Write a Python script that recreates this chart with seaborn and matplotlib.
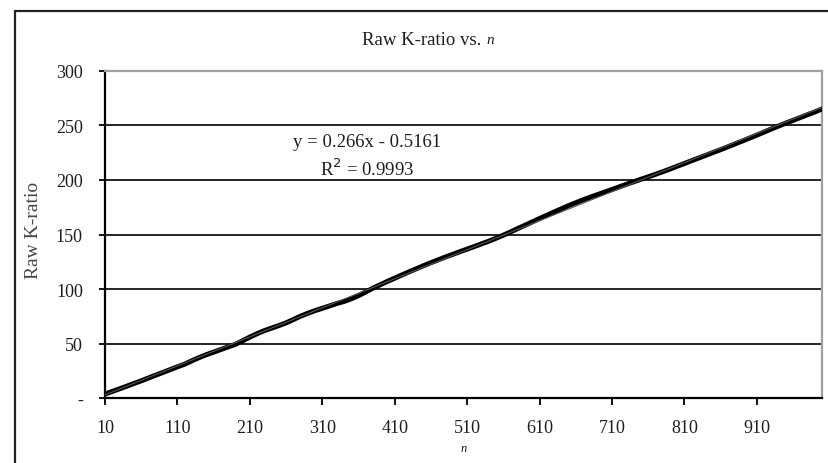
import matplotlib
matplotlib.use("Agg")
import matplotlib.pyplot as plt
import pandas as pd
import seaborn as sns
from matplotlib.patches import Rectangle

# Data (n = 10, 20, ..., 1000)
n_values = list(range(10, 1001, 10))
k_ratio = [
    3.9, 6.3, 8.7, 11.1, 13.6, 16.0, 18.6, 21.2, 23.7, 26.3,
    28.8, 31.3, 34.4, 37.3, 40.0, 42.3, 44.7, 47.1, 49.4, 52.7,
    56.1, 59.2, 62.0, 64.3, 66.6, 69.1, 72.1, 75.2, 77.9, 80.3,
    82.4, 84.6, 86.8, 88.7, 91.1, 94.0, 97.4, 100.9, 104.0, 107.1,
    110.0, 113.0, 115.9, 118.7, 121.5, 124.2, 126.8, 129.4, 131.8, 134.3,
    136.6, 139.0, 141.5, 143.9, 146.6, 149.4, 152.4, 155.5, 158.5, 161.6,
    164.6, 167.6, 170.6, 173.5, 176.4, 179.1, 181.7, 184.2, 186.5, 188.9,
    191.2, 193.6, 196.0, 198.3, 200.6, 202.8, 205.1, 207.5, 209.9, 212.5,
    215.0, 217.6, 220.1, 222.6, 225.2, 227.7, 230.3, 233.0, 235.6, 238.3,
    241.0, 243.8, 246.6, 249.3, 252.0, 254.5, 257.1, 259.7, 262.2, 265.0,
]
x_ticks = [10, 110, 210, 310, 410, 510, 610, 710, 810, 910]
y_ticks = [0, 50, 100, 150, 200, 250, 300]
y_tick_labels = ["-", "50", "100", "150", "200", "250", "300"]
fit_text = "y = 0.266x - 0.5161\nR$^2$ = 0.9993"

df = pd.DataFrame({"n": n_values, "k": k_ratio})

sns.set_style("white")
plt.rcParams["font.family"] = ["Liberation Serif", "DejaVu Serif"]
text_col = "#1e1e1e"

fig = plt.figure(figsize=(8.29, 4.64), dpi=100)
ax = fig.add_axes([0.1267, 0.1394, 0.8649, 0.7061])

# outer chart frame (cropped on right and bottom)
fig.add_artist(Rectangle((0.018, -0.2), 1.2, 0.974 + 0.2, transform=fig.transFigure,
                         fill=False, lw=1.6, edgecolor="#222222", clip_on=False))

sns.lineplot(data=df, x="n", y="k", ax=ax, color="black", lw=3.6, zorder=3)
sns.regplot(data=df, x="n", y="k", ax=ax, scatter=False, ci=None,
            line_kws={"color": "#555555", "lw": 0.8, "zorder": 4})

ax.set_xlim(10, 1000)
ax.set_ylim(0, 300)
ax.set_xticks(x_ticks)
ax.set_xticklabels([str(t) for t in x_ticks])
ax.set_yticks(y_ticks)
ax.set_yticklabels(y_tick_labels)

ax.yaxis.grid(True, color="black", lw=1.2)
ax.xaxis.grid(False)
ax.set_axisbelow(True)

for side in ["left", "bottom"]:
    ax.spines[side].set_color("black")
    ax.spines[side].set_linewidth(1.6)
for side in ["top", "right"]:
    ax.spines[side].set_color("#a0a0a0")
    ax.spines[side].set_linewidth(1.6)
    ax.spines[side].set_visible(True)

ax.tick_params(axis="x", direction="out", length=5, width=1.3, color="black",
               pad=10, labelsize=13, labelcolor=text_col, bottom=True)
ax.tick_params(axis="y", direction="out", length=4, width=1.3, color="black",
               pad=12, labelsize=13, labelcolor=text_col, left=True)

ax.set_xlabel("n", fontsize=9, style="italic", color=text_col, labelpad=4)
ax.set_ylabel("Raw K-ratio", fontsize=14, color="#444444")
ax.yaxis.set_label_coords(-0.088, 0.514)

fig.text(0.587, 0.912, "Raw K-ratio vs. ", fontsize=13.5, color=text_col, ha="right", va="center")
fig.text(0.587, 0.912, "n", fontsize=11, style="italic", color=text_col, ha="left", va="center")

ax.text(372, 222, fit_text, fontsize=13.5, color=text_col, ha="center", va="center",
        linespacing=1.4)

fig.savefig("out.png", dpi=100)
